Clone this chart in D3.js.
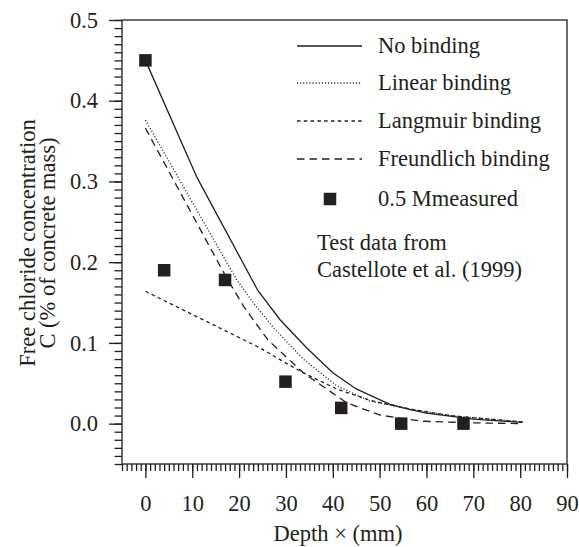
<!DOCTYPE html>
<html>
<head>
<meta charset="utf-8">
<script src="https://cdn.jsdelivr.net/npm/d3@7"></script>
<style>
  body { margin: 0; background: #fff; }
  svg text { font-family: "Liberation Serif", "Times New Roman", serif; fill: #231f20; }
</style>
</head>
<body>
<div id="svgDiv"></div>
<script>
////// DATA ////////
// measured (Castellote et al. 1999)
var measDepth = [0, 4, 17, 29.9, 41.8, 54.6, 67.9];
var measConc = [0.45, 0.19, 0.178, 0.052, 0.0195, 0.0, 0.0];

// model curves
var noBindX = [0, 11, 24, 28.7, 34.4, 40, 45, 52.2, 56.1, 60, 70, 80.5];
var noBindC = [0.45, 0.305, 0.165, 0.129, 0.094, 0.063, 0.043, 0.024, 0.018, 0.013, 0.0055, 0.0015];

var linearX = [0, 19.4, 23, 27.3, 33.7, 40.8, 47.9, 56.5, 65, 80.5];
var linearC = [0.376, 0.179, 0.150, 0.119, 0.080, 0.047, 0.028, 0.018, 0.010, 0.002];

var langmuirX = [0, 24.4, 30, 33.7, 40.8, 47.9, 56.5, 65, 80.5];
var langmuirC = [0.164, 0.094, 0.075, 0.063, 0.043, 0.029, 0.018, 0.010, 0.002];

var freundX = [0, 17, 21, 26.1, 33.7, 42.9, 50.1, 59, 70, 80.5];
var freundC = [0.366, 0.184, 0.145, 0.104, 0.063, 0.026, 0.0105, 0.003, 0.001, 0];

var xTicks = [0, 10, 20, 30, 40, 50, 60, 70, 80, 90];
var yTicks = [0, 0.1, 0.2, 0.3, 0.4, 0.5];

var legendLabels = ["No binding", "Linear binding", "Langmuir binding", "Freundlich binding", "0.5 Mmeasured"];
///////////////////////

var ink = "#231f20";
var w = 579, h = 547;
var mLeft = 122, mRight = 567, mTop = 20, mBottom = 464;

var svg = d3.select("#svgDiv")
  .append("svg")
  .attr("width", w)
  .attr("height", h);

var xScale = d3.scaleLinear().domain([-5, 90]).range([mLeft, mRight]);
var yScale = d3.scaleLinear().domain([-0.05, 0.5]).range([mBottom, mTop]);

// minor ticks
svg.append("g")
  .attr("transform", "translate(0," + mBottom + ")")
  .call(d3.axisBottom(xScale).tickValues(d3.range(-5, 91, 1)).tickSize(7).tickFormat(""))
  .call(styleAxis);

svg.append("g")
  .attr("transform", "translate(" + mLeft + ",0)")
  .call(d3.axisLeft(yScale).tickValues(d3.range(-5, 51, 1).map(function (d) { return d / 100; })).tickSize(7.5).tickFormat(""))
  .call(styleAxis);

// major ticks + labels
svg.append("g")
  .attr("transform", "translate(0," + mBottom + ")")
  .call(d3.axisBottom(xScale).tickValues(xTicks).tickSize(14).tickPadding(17).tickFormat(d3.format("d")))
  .call(styleAxis);

svg.append("g")
  .attr("transform", "translate(" + mLeft + ",0)")
  .call(d3.axisLeft(yScale).tickValues(yTicks).tickSize(13).tickPadding(11).tickFormat(d3.format(".1f")))
  .call(styleAxis);

function styleAxis(g) {
  g.select(".domain").remove();
  g.selectAll("line").attr("stroke", ink).attr("stroke-width", 1.3);
  g.selectAll("text")
    .attr("fill", ink)
    .style("font-size", "22.5px")
    .style("font-family", "Liberation Serif, serif");
}

// frame
svg.append("rect")
  .attr("x", mLeft)
  .attr("y", mTop)
  .attr("width", mRight - mLeft)
  .attr("height", mBottom - mTop)
  .attr("fill", "none")
  .attr("stroke", ink)
  .attr("stroke-width", 1.3);

// curves
var curves = [
  { x: noBindX, c: noBindC, dash: null },
  { x: linearX, c: linearC, dash: "1.1,2" },
  { x: langmuirX, c: langmuirC, dash: "3.5,3.3" },
  { x: freundX, c: freundC, dash: "7.5,5" }
];

var line = d3.line()
  .x(function (d) { return xScale(d[0]); })
  .y(function (d) { return yScale(d[1]); });

svg.selectAll("path.curve")
  .data(curves)
  .enter()
  .append("path")
  .attr("class", "curve")
  .attr("d", function (d) { return line(d3.zip(d.x, d.c)); })
  .attr("fill", "none")
  .attr("stroke", ink)
  .attr("stroke-width", 1.3)
  .attr("stroke-dasharray", function (d) { return d.dash; });

// measured squares
var sq = 12.5;
svg.selectAll("rect.pt")
  .data(d3.zip(measDepth, measConc))
  .enter()
  .append("rect")
  .attr("class", "pt")
  .attr("x", function (d) { return xScale(d[0]) - sq / 2; })
  .attr("y", function (d) { return yScale(d[1]) - sq / 2; })
  .attr("width", sq)
  .attr("height", sq)
  .attr("fill", ink);

// legend
var legBase = [53, 90, 128, 166, 206];
var leg = svg.append("g");
for (i = 0; i < 4; i++) {
  leg.append("line")
    .attr("x1", 297).attr("x2", 362)
    .attr("y1", legBase[i] - 7).attr("y2", legBase[i] - 7)
    .attr("stroke", ink)
    .attr("stroke-width", 1.3)
    .attr("stroke-dasharray", curves[i].dash);
}
leg.append("rect")
  .attr("x", 330 - sq / 2)
  .attr("y", legBase[4] - 7 - sq / 2)
  .attr("width", sq)
  .attr("height", sq)
  .attr("fill", ink);

leg.selectAll("text")
  .data(legendLabels)
  .enter()
  .append("text")
  .attr("x", 378)
  .attr("y", function (d, i) { return legBase[i]; })
  .style("font-size", "22.5px")
  .text(function (d) { return d; });

svg.append("text")
  .attr("x", 317).attr("y", 250)
  .style("font-size", "22.5px")
  .text("Test data from");
svg.append("text")
  .attr("x", 317).attr("y", 277)
  .style("font-size", "22.5px")
  .text("Castellote et al. (1999)");

// axis titles
svg.append("text")
  .attr("x", 338).attr("y", 541)
  .attr("text-anchor", "middle")
  .style("font-size", "22.5px")
  .text("Depth \u00d7 (mm)");

var yl = svg.append("g").attr("transform", "translate(0,243) rotate(-90)");
yl.append("text")
  .attr("x", 0).attr("y", 35)
  .attr("text-anchor", "middle")
  .style("font-size", "22.5px")
  .text("Free chloride concentration");
yl.append("text")
  .attr("x", 0).attr("y", 55)
  .attr("text-anchor", "middle")
  .style("font-size", "22.5px")
  .text("C (% of concrete mass)");
</script>
</body>
</html>
